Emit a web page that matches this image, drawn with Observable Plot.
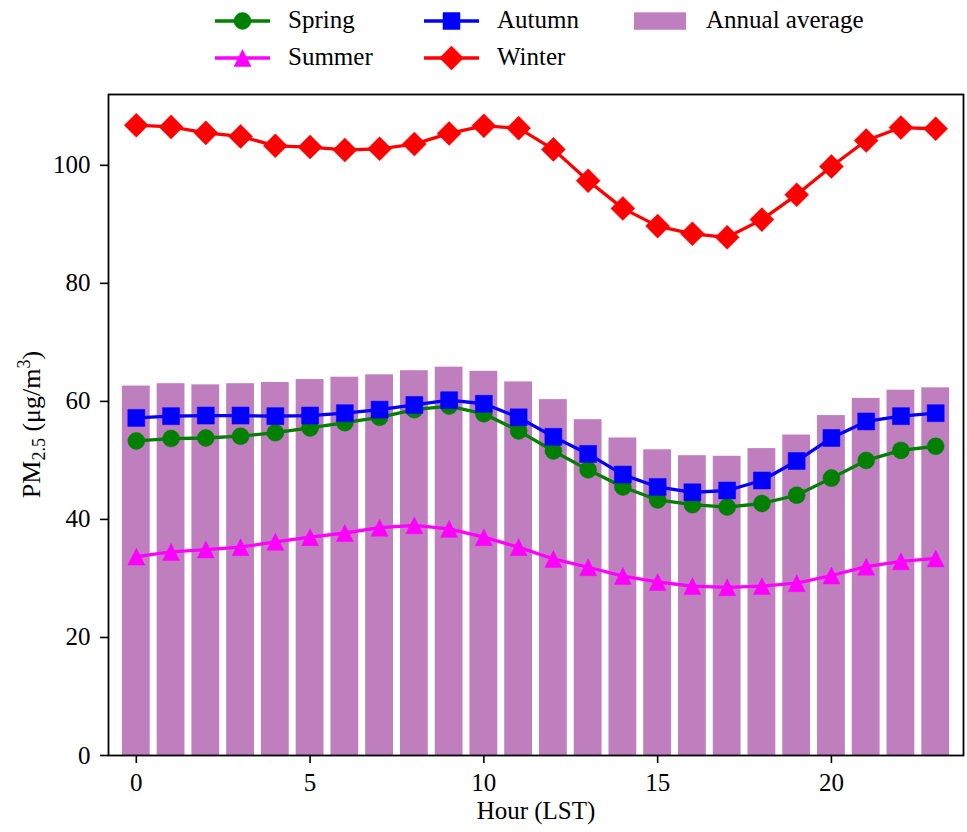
<!DOCTYPE html>
<html>
<head>
<meta charset="utf-8">
<script src="https://cdn.jsdelivr.net/npm/d3@7"></script>
<script src="https://cdn.jsdelivr.net/npm/@observablehq/plot@0.6"></script>
<style>
  html, body { margin: 0; padding: 0; background: white; }
  #wrap { width: 967px; font-family: "Liberation Serif", "Times New Roman", serif; }
  #legend { position: relative; width: 967px; height: 75px; }
  #legend .lab { position: absolute; font-size: 25px; line-height: 28px; white-space: nowrap; color: black; }
  #legend svg { position: absolute; overflow: visible; }
  #chart svg, #chart svg text, #chart svg g { font-family: "Liberation Serif", "Times New Roman", serif !important; }
</style>
</head>
<body>
<div id="wrap">
  <div id="legend"></div>
  <div id="chart"></div>
</div>
<script>
// ---- data ----
const hours = [0,1,2,3,4,5,6,7,8,9,10,11,12,13,14,15,16,17,18,19,20,21,22,23];
const spring = [53.3, 53.7, 53.8, 54.1, 54.7, 55.5, 56.4, 57.3, 58.6, 59.2, 57.9, 55.0, 51.6, 48.4, 45.5, 43.3, 42.5, 42.1, 42.7, 44.1, 47.0, 50.0, 51.7, 52.4];
const summer = [33.7, 34.5, 34.9, 35.3, 36.2, 37.0, 37.7, 38.6, 39.0, 38.4, 37.0, 35.3, 33.3, 31.9, 30.4, 29.4, 28.7, 28.5, 28.7, 29.2, 30.5, 32.0, 32.9, 33.4];
const autumn = [57.2, 57.5, 57.6, 57.6, 57.5, 57.6, 58.0, 58.6, 59.4, 60.2, 59.6, 57.3, 54.0, 51.1, 47.6, 45.5, 44.6, 44.9, 46.6, 49.9, 53.8, 56.6, 57.5, 58.0];
const winter = [106.8, 106.5, 105.5, 104.9, 103.3, 103.1, 102.6, 102.8, 103.6, 105.4, 106.7, 106.3, 102.7, 97.4, 92.7, 89.7, 88.4, 87.8, 90.8, 95.0, 99.8, 104.2, 106.4, 106.2];
const annual = [62.6, 63.0, 62.8, 63.0, 63.2, 63.7, 64.1, 64.5, 65.2, 65.8, 65.1, 63.3, 60.3, 56.9, 53.8, 51.8, 50.8, 50.7, 52.0, 54.3, 57.6, 60.5, 61.9, 62.3];
const seriesNames = ["Spring", "Summer", "Autumn", "Winter"];
const seriesColors = ["#008000", "#ff00ff", "#0000ff", "#ff0000"];
const seriesShapes = ["circle", "triangle", "square", "diamond"];
const barName = "Annual average";
const barColor = "#bf7fbf";
const xTicks = [0, 5, 10, 15, 20];
const yTicks = [0, 20, 40, 60, 80, 100];
const xLabel = "Hour (LST)";

// ---- custom matplotlib-like symbols (r = half marker size) ----
const symbols = {
  circle: { draw(ctx, size) { const r = Math.sqrt(size / Math.PI); ctx.moveTo(r, 0); ctx.arc(0, 0, r, 0, 2 * Math.PI); ctx.closePath(); } },
  square: { draw(ctx, size) { const r = Math.sqrt(size / Math.PI); ctx.rect(-r, -r, 2 * r, 2 * r); } },
  triangle: { draw(ctx, size) { const r = Math.sqrt(size / Math.PI); ctx.moveTo(0, -r); ctx.lineTo(r, r); ctx.lineTo(-r, r); ctx.closePath(); } },
  diamond: { draw(ctx, size) { const r = Math.sqrt(size / Math.PI) * Math.SQRT2; ctx.moveTo(0, -r); ctx.lineTo(r, 0); ctx.lineTo(0, r); ctx.lineTo(-r, 0); ctx.closePath(); } }
};
const R = 8.5;

const seriesValues = [spring, summer, autumn, winter];
const table = [];
seriesNames.forEach((name, k) => hours.forEach((h, i) => table.push({ series: name, hour: h, value: seriesValues[k][i] })));
const bars = hours.map((h, i) => ({ hour: h, value: annual[i] }));

const marks = [
  Plot.rectY(bars, { x1: d => d.hour - 0.4, x2: d => d.hour + 0.4, y1: 0, y2: "value", fill: barColor })
];
seriesNames.forEach((name, k) => {
  const data = table.filter(d => d.series === name);
  marks.push(Plot.line(data, { x: "hour", y: "value", stroke: seriesColors[k], strokeWidth: 3.3 }));
  marks.push(Plot.dot(data, { x: "hour", y: "value", r: R, fill: seriesColors[k], stroke: seriesColors[k], strokeWidth: 0.5, symbol: symbols[seriesShapes[k]] }));
});
marks.push(Plot.frame({ stroke: "black", strokeWidth: 1.8 }));
marks.push(Plot.axisX({ ticks: xTicks, tickSize: 8, tickPadding: 10, strokeWidth: 1.6, fontSize: 25, label: null }));
marks.push(Plot.axisY({ ticks: yTicks, tickSize: 8, tickPadding: 10, strokeWidth: 1.6, fontSize: 25, label: null }));
marks.push(Plot.text([xLabel], { text: d => d, frameAnchor: "bottom", dy: 63, fontSize: 25, fill: "black" }));

const chart = Plot.plot({
  width: 967,
  height: 757,
  marginTop: 19,
  marginBottom: 77,
  marginLeft: 108,
  marginRight: 4,
  style: { fontFamily: "'Liberation Serif', 'Times New Roman', serif", fontSize: "25px", color: "black", background: "white", overflow: "visible" },
  x: { domain: [-0.8, 23.8] },
  y: { domain: [0, 112] },
  marks
});
document.getElementById("chart").appendChild(chart);

// y label with sub/superscripts
const svg = d3.select(chart);
const yl = svg.append("text")
  .attr("transform", "translate(40,349.5) rotate(-90)")
  .attr("text-anchor", "middle")
  .attr("font-size", 26)
  .attr("fill", "black");
yl.append("tspan").text("PM");
yl.append("tspan").attr("font-size", 18).attr("dy", 5).text("2.5");
yl.append("tspan").attr("dy", -5).text(" (\u03bcg/m");
yl.append("tspan").attr("font-size", 18).attr("dy", -10).text("3");
yl.append("tspan").attr("dy", 10).text(")");

// ---- legend ----
const legend = document.getElementById("legend");
const colX = [215, 424, 633];
const rowY = [20.7, 58];
const items = [
  { name: seriesNames[0], k: 0, col: 0, row: 0 },
  { name: seriesNames[1], k: 1, col: 0, row: 1 },
  { name: seriesNames[2], k: 2, col: 1, row: 0 },
  { name: seriesNames[3], k: 3, col: 1, row: 1 }
];
function addLabel(text, x, y) {
  const s = document.createElement("div");
  s.className = "lab";
  s.textContent = text;
  s.style.left = x + "px";
  s.style.top = (y - 15) + "px";
  legend.appendChild(s);
}
items.forEach(it => {
  const x0 = colX[it.col], y0 = rowY[it.row];
  const sv = d3.create("svg").attr("width", 60).attr("height", 30)
    .style("left", x0 + "px").style("top", (y0 - 15) + "px");
  sv.append("line").attr("x1", 0).attr("x2", 55).attr("y1", 15).attr("y2", 15)
    .attr("stroke", seriesColors[it.k]).attr("stroke-width", 3.3);
  const p = d3.path();
  symbols[seriesShapes[it.k]].draw(p, Math.PI * R * R);
  sv.append("path").attr("d", p.toString()).attr("transform", "translate(27.5,15)")
    .attr("fill", seriesColors[it.k]).attr("stroke", seriesColors[it.k]).attr("stroke-width", 0.5);
  legend.appendChild(sv.node());
  addLabel(it.name, x0 + 73, y0);
});
{
  const sv = d3.create("svg").attr("width", 60).attr("height", 30)
    .style("left", colX[2] + "px").style("top", (rowY[0] - 15) + "px");
  sv.append("rect").attr("x", 1).attr("y", 6.3).attr("width", 52).attr("height", 17.5).attr("fill", barColor);
  legend.appendChild(sv.node());
  addLabel(barName, colX[2] + 73, rowY[0]);
}
</script>
</body>
</html>
